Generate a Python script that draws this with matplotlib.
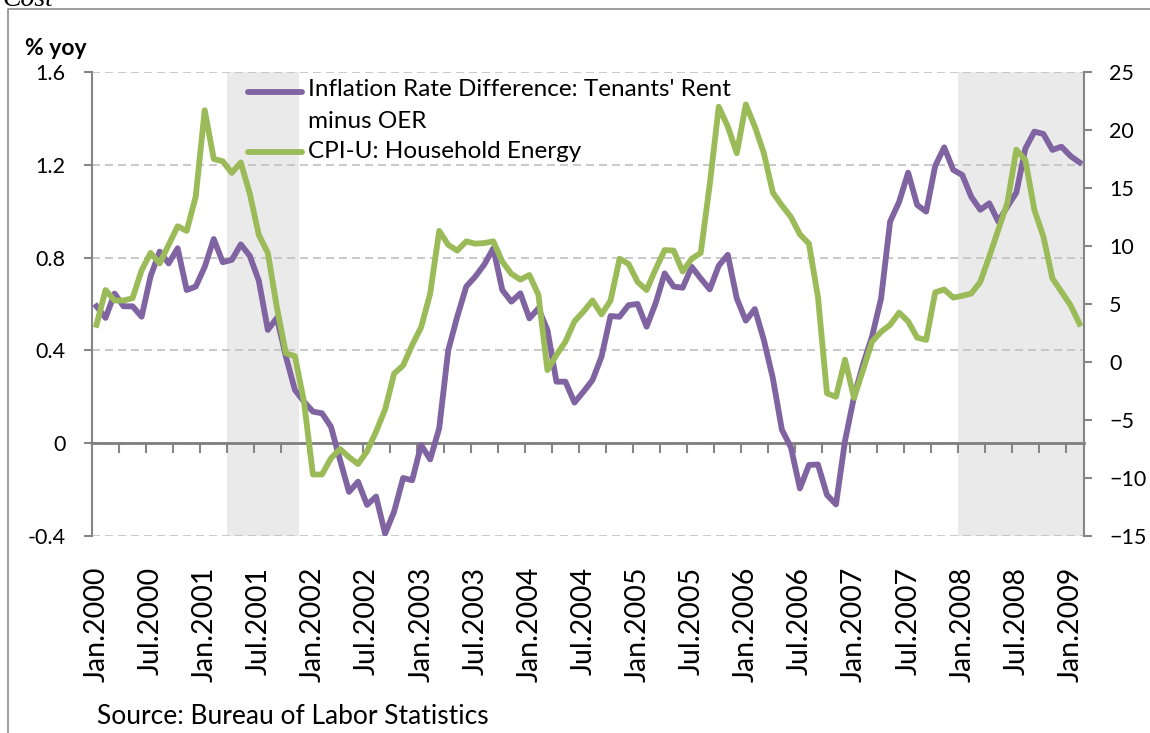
import matplotlib
matplotlib.use('Agg')
import matplotlib.pyplot as plt
from matplotlib.lines import Line2D
import pandas as pd

plt.rcParams['font.family'] = ['Lato', 'DejaVu Sans']

# monthly data, Jan 2000 - Feb 2009
months = pd.period_range('2000-01', '2009-02', freq='M')

# inflation rate difference: tenants' rent minus OER (% yoy, left axis)
rent_minus_oer = [
    0.59, 0.54, 0.645, 0.59, 0.59, 0.545, 0.72, 0.826, 0.775, 0.84,
    0.66, 0.675, 0.76, 0.88, 0.78, 0.79, 0.857, 0.807, 0.70, 0.488,
    0.54, 0.373, 0.23, 0.179, 0.136, 0.129, 0.071, -0.072, -0.21, -0.166,
    -0.266, -0.23, -0.39, -0.295, -0.15, -0.16, -0.008, -0.07, 0.064, 0.40,
    0.545, 0.675, 0.718, 0.77, 0.84, 0.66, 0.61, 0.646, 0.538, 0.581,
    0.488, 0.265, 0.265, 0.175, 0.222, 0.272, 0.373, 0.548, 0.545, 0.595,
    0.60, 0.502, 0.603, 0.732, 0.675, 0.67, 0.76, 0.71, 0.663, 0.765,
    0.812, 0.624, 0.528, 0.578, 0.445, 0.28, 0.058, -0.018, -0.195, -0.094,
    -0.092, -0.223, -0.264, 0.01, 0.2, 0.34, 0.46, 0.624, 0.955, 1.04,
    1.166, 1.027, 0.998, 1.195, 1.275, 1.178, 1.156, 1.062, 1.006, 1.034,
    0.955, 1.02, 1.08, 1.27, 1.343, 1.333, 1.264, 1.278, 1.238, 1.21,
]

# CPI-U household energy (% yoy, right axis)
household_energy = [
    3.2, 6.2, 5.3, 5.3, 5.5, 7.9, 9.4, 8.5, 10.1, 11.7,
    11.3, 14.25, 21.7, 17.5, 17.3, 16.3, 17.2, 14.5, 10.95, 9.4,
    4.7, 0.75, 0.5, -3.4, -9.7, -9.7, -8.3, -7.5, -8.2, -8.8,
    -7.7, -6.0, -4.1, -1.0, -0.3, 1.45, 3.0, 5.9, 11.3, 10.1,
    9.6, 10.4, 10.2, 10.25, 10.4, 8.65, 7.6, 7.1, 7.5, 5.8,
    -0.7, 0.6, 1.75, 3.5, 4.35, 5.3, 4.1, 5.3, 8.9, 8.45,
    6.9, 6.2, 8.0, 9.65, 9.6, 7.8, 8.9, 9.4, 15.3, 22.0,
    20.3, 18.0, 22.2, 20.3, 18.0, 14.6, 13.5, 12.5, 11.0, 10.2,
    5.6, -2.7, -3.0, 0.2, -3.1, -0.7, 1.75, 2.6, 3.2, 4.25,
    3.5, 2.1, 1.9, 6.0, 6.25, 5.55, 5.7, 5.9, 6.9, 9.1,
    11.4, 13.7, 18.3, 17.4, 13.1, 10.8, 7.2, 6.06, 4.9, 3.3,
]

recessions = [('2001-04', '2001-11'), ('2008-01', '2009-02')]

label_rent = "Inflation Rate Difference: Tenants' Rent\nminus OER"
label_energy = 'CPI-U: Household Energy'

purple = '#8064A2'
green = '#9BBB59'
axis_grey = '#868686'
lw = 4.2

x = list(range(len(months)))

fig = plt.figure(figsize=(11.5, 7.33), dpi=100)
ax = fig.add_axes([0.08, 0.2688, 0.8626, 0.633])
ax2 = ax.twinx()

# recession shading
for start, end in recessions:
    i0 = months.get_loc(pd.Period(start, freq='M'))
    i1 = months.get_loc(pd.Period(end, freq='M'))
    ax.axvspan(i0 - 0.5, i1 + 0.5, color='#EAEAEA', lw=0, zorder=0.2)

ax.plot(x, rent_minus_oer, color=purple, lw=lw, solid_joinstyle='round', zorder=3)
ax2.plot(x, household_energy, color=green, lw=lw, solid_joinstyle='round', zorder=3)

ax.set_xlim(-0.5, len(months) - 0.5)
ax.set_ylim(-0.4, 1.6)
ax.set_yticks([-0.4, 0, 0.4, 0.8, 1.2, 1.6])
ax.set_yticklabels(['-0.4', '0', '0.4', '0.8', '1.2', '1.6'])
ax2.set_ylim(-15, 25)
ax2.set_yticks(range(-15, 30, 5))

ax.yaxis.grid(True, color='#C0C0C0', linestyle=(0, (4.8, 3)), lw=1.2)

# x labels every six months
lab_idx = x[::6]
ax.set_xticks(lab_idx)
ax.set_xticklabels([f"{months[i].strftime('%b')}.{months[i].year}" for i in lab_idx],
                   rotation=90, fontsize=20.5)
ax.tick_params(axis='x', length=0, pad=22)

for a in (ax, ax2):
    for s in ('top', 'bottom'):
        a.spines[s].set_visible(False)
    for s in ('left', 'right'):
        a.spines[s].set_color(axis_grey)
        a.spines[s].set_linewidth(1.5)
ax.spines['right'].set_visible(False)
ax2.spines['left'].set_visible(False)
ax.tick_params(axis='y', direction='out', length=6, width=1.5, color=axis_grey,
               labelsize=15.5, pad=13)
ax2.tick_params(axis='y', direction='out', length=6, width=1.5, color=axis_grey,
                labelsize=15.5, pad=12)

# category axis crossing at zero, tick marks every quarter
zero_pos = (0 - ax.get_ylim()[0]) / (ax.get_ylim()[1] - ax.get_ylim()[0])
sec = ax.secondary_xaxis(zero_pos)
sec.set_zorder(2.5)
sec.set_xticks([i - 0.5 for i in x[3::3]])
sec.set_xticklabels([])
sec.spines['bottom'].set_color('#7F7F7F')
sec.spines['bottom'].set_linewidth(2)
sec.tick_params(axis='x', direction='out', length=7, width=1.5, color=axis_grey)

# legend
fig.add_artist(Line2D([0.216, 0.263], [0.874, 0.874], color=purple, lw=lw,
                      solid_capstyle='round', transform=fig.transFigure))
fig.add_artist(Line2D([0.216, 0.263], [0.793, 0.793], color=green, lw=lw,
                      solid_capstyle='round', transform=fig.transFigure))
fig.text(0.268, 0.892, label_rent, fontsize=17.5, va='top', ha='left',
         linespacing=1.62)
fig.text(0.268, 0.793, label_energy, fontsize=17.5, va='center', ha='left')

fig.text(0.022, 0.925, '% yoy', fontsize=16.5, fontweight='bold', va='baseline')
fig.text(0.084, 0.012, 'Source: Bureau of Labor Statistics', fontsize=19, va='baseline')
fig.text(0.002, 0.992, 'Cost', fontsize=20, style='italic', va='baseline',
         family=['Liberation Serif', 'DejaVu Serif'])

# outer frame
fig.add_artist(Line2D([0.007, 0.007, 1.0], [0.0, 0.988, 0.988], color='#8C8C8C',
                      lw=1.2, transform=fig.transFigure))

fig.savefig('out.png', dpi=100)
